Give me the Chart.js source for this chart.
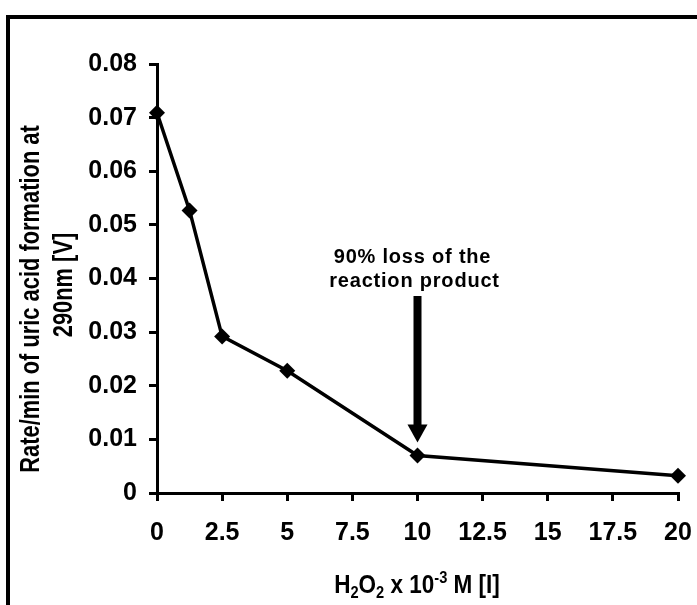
<!DOCTYPE html>
<html>
<head>
<meta charset="utf-8">
<script src="https://cdn.jsdelivr.net/npm/chart.js@4.4.1/dist/chart.umd.min.js"></script>
<style>
  html, body { margin: 0; padding: 0; background: #fff; }
  #wrap { width: 697px; height: 605px; }
</style>
</head>
<body>
<div id="wrap"><canvas id="rateChart" width="697" height="605"></canvas></div>
<script>
// H2O2 concentration (x 10^-3 M) and rate of uric acid formation
const concentrations = [0, 1.25, 2.5, 5, 10, 20];
const rates = [0.0709, 0.0527, 0.0292, 0.0228, 0.0070, 0.0032];

const xTicks = [0, 2.5, 5, 7.5, 10, 12.5, 15, 17.5, 20];
const yTicks = [0, 0.01, 0.02, 0.03, 0.04, 0.05, 0.06, 0.07, 0.08];

const yTitleLines = ["Rate/min of uric acid formation at", "290nm [V]"];
const noteLines = ["90% loss of the", "reaction product"];
const noteAt = 10; // x value the arrow points to

const FONT = '"Liberation Sans", Arial, sans-serif';

// draws text pieces (normal / sub / sup) centred on cx, squeezed horizontally
function drawRich(ctx, parts, cx, baseline, size, squeeze) {
    let total = 0;
    parts.forEach(p => {
        const s = p.mode ? size * 0.65 : size;
        ctx.font = 'bold ' + s + 'px ' + FONT;
        p.w = ctx.measureText(p.text).width;
        total += p.w;
    });
    ctx.save();
    ctx.translate(cx, baseline);
    ctx.scale(squeeze, 1);
    ctx.textAlign = 'left';
    ctx.textBaseline = 'alphabetic';
    let x = -total / 2;
    parts.forEach(p => {
        const s = p.mode ? size * 0.65 : size;
        ctx.font = 'bold ' + s + 'px ' + FONT;
        let dy = 0;
        if (p.mode === 'sub') dy = 5;
        if (p.mode === 'sup') dy = -10;
        ctx.fillText(p.text, x, dy);
        x += p.w;
    });
    ctx.restore();
}

const overlay = {
    id: 'overlay',
    afterDraw(chart) {
        const ctx = chart.ctx;
        const xs = chart.scales.x;
        const ys = chart.scales.y;
        ctx.save();
        ctx.fillStyle = '#000';
        ctx.strokeStyle = '#000';

        // outer frame (cut off on right and bottom)
        ctx.lineWidth = 4;
        ctx.strokeRect(8, 17, 720, 640);

        // y axis title, two rotated lines
        const yLinePos = [[39, 299], [72, 285]];
        yTitleLines.forEach((line, i) => {
            ctx.save();
            ctx.translate(yLinePos[i][0], yLinePos[i][1]);
            ctx.rotate(-Math.PI / 2);
            ctx.scale(0.81, 1);
            ctx.font = 'bold 27px ' + FONT;
            ctx.textAlign = 'center';
            ctx.textBaseline = 'alphabetic';
            ctx.fillText(line, 0, 0);
            ctx.restore();
        });

        // x axis title with sub/superscripts
        drawRich(ctx, [
            { text: 'H' }, { text: '2', mode: 'sub' },
            { text: 'O' }, { text: '2', mode: 'sub' },
            { text: ' x 10' }, { text: '-3', mode: 'sup' },
            { text: ' M [I]' }
        ], 417, 593, 25, 0.9);

        // annotation
        const ax = xs.getPixelForValue(noteAt);
        const idx = concentrations.indexOf(noteAt);
        const tipY = ys.getPixelForValue(rates[idx]) - 13;
        ctx.font = 'bold 20px ' + FONT;
        ctx.textAlign = 'center';
        ctx.textBaseline = 'alphabetic';
        ctx.letterSpacing = '0.8px';
        ctx.fillText(noteLines[0], ax - 5, 263);
        ctx.fillText(noteLines[1], ax - 3, 287);
        ctx.letterSpacing = '0px';

        // arrow
        ctx.fillRect(ax - 4, 296, 8, tipY - 18 - 296 + 1);
        ctx.beginPath();
        ctx.moveTo(ax - 10, tipY - 18);
        ctx.lineTo(ax + 10, tipY - 18);
        ctx.lineTo(ax, tipY);
        ctx.closePath();
        ctx.fill();

        ctx.restore();
    }
};

const tickFont = { family: FONT, size: 25, weight: 'bold' };

new Chart(document.getElementById('rateChart').getContext('2d'), {
    type: 'scatter',
    data: {
        datasets: [{
            data: concentrations.map((c, i) => ({ x: c, y: rates[i] })),
            showLine: true,
            borderColor: '#000',
            borderWidth: 3.5,
            pointStyle: 'rectRot',
            pointRadius: 8,
            pointBackgroundColor: '#000',
            pointBorderColor: '#000',
            pointBorderWidth: 0,
            clip: false
        }]
    },
    options: {
        responsive: false,
        animation: false,
        devicePixelRatio: 1,
        layout: { autoPadding: false, padding: { top: 64, right: 19, left: 0, bottom: 0 } },
        plugins: { legend: { display: false }, tooltip: { enabled: false } },
        scales: {
            x: {
                type: 'linear',
                min: 0,
                max: 20,
                afterBuildTicks: s => { s.ticks = xTicks.map(v => ({ value: v })); },
                afterFit: s => { s.height = 112; s.paddingLeft = 0; s.paddingRight = 0; },
                border: { color: '#000', width: 3 },
                grid: { drawOnChartArea: false, color: '#000', lineWidth: 3, tickColor: '#000', tickWidth: 3, tickLength: 8 },
                ticks: { color: '#000', font: tickFont, padding: 17, maxRotation: 0, autoSkip: false, callback: v => String(v) }
            },
            y: {
                min: 0,
                max: 0.08,
                afterBuildTicks: s => { s.ticks = yTicks.map(v => ({ value: v })); },
                afterFit: s => { s.width = 157; s.paddingTop = 0; s.paddingBottom = 0; },
                border: { color: '#000', width: 3 },
                grid: { drawOnChartArea: false, color: '#000', lineWidth: 3, tickColor: '#000', tickWidth: 3, tickLength: 8 },
                ticks: { color: '#000', font: tickFont, padding: 12, autoSkip: false, callback: v => String(v) }
            }
        }
    },
    plugins: [overlay]
});
</script>
</body>
</html>
